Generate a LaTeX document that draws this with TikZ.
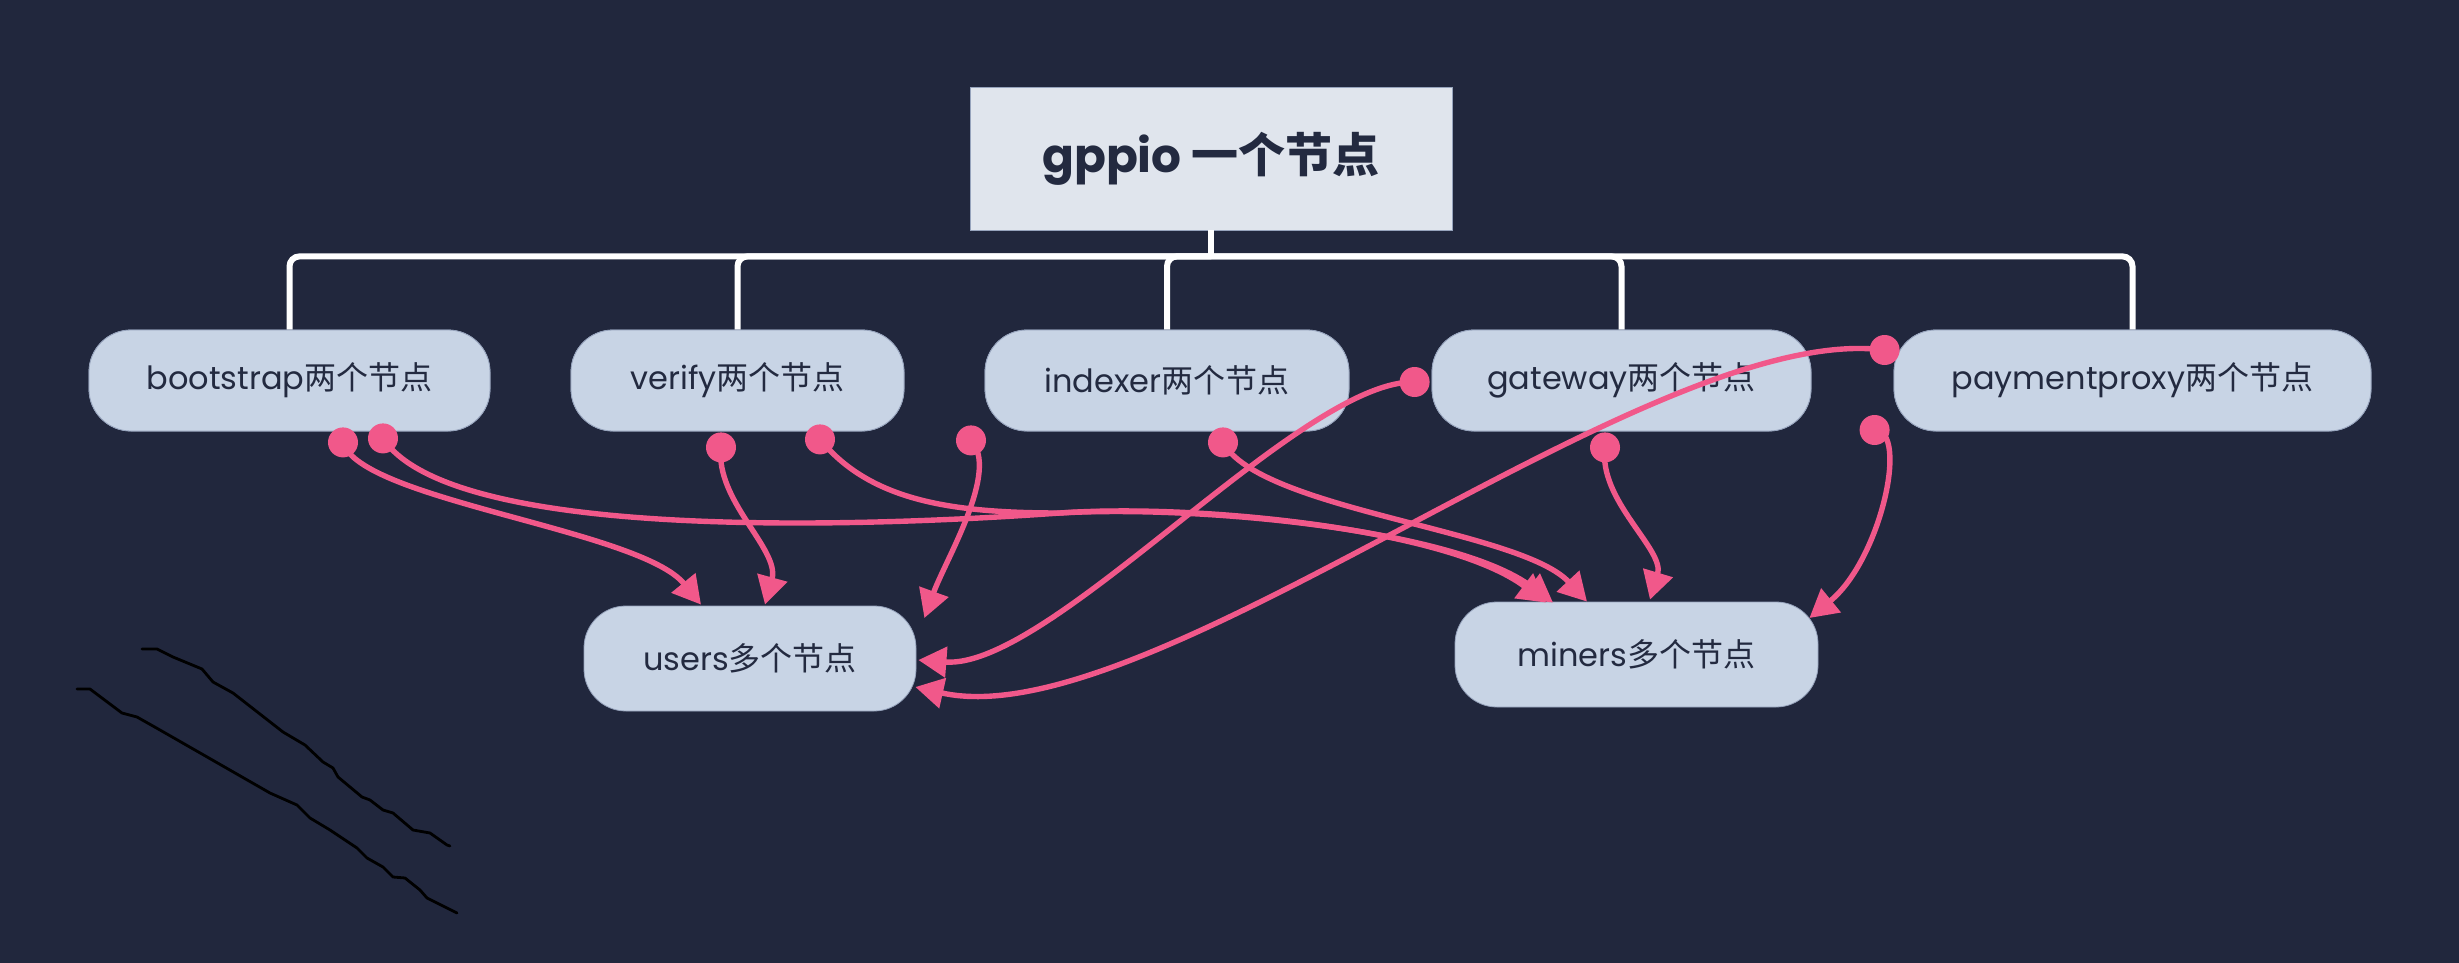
\documentclass[tikz,border=0pt]{standalone}
\usepackage{fontspec}
\setmainfont{Poppins}
\newfontfamily\cjk{Noto Sans CJK SC}
\usetikzlibrary{arrows.meta,calc}
\definecolor{bgc}{RGB}{33,39,61}
\definecolor{boxc}{RGB}{200,212,229}
\definecolor{rootc}{RGB}{224,229,237}
\definecolor{txtc}{RGB}{35,42,64}
\definecolor{pinkc}{RGB}{241,88,138}
\definecolor{edgec}{RGB}{150,163,188}
\begin{document}
\begin{tikzpicture}[x=0.5pt,y=-0.5pt,
  childbox/.style={fill=boxc,draw=edgec,line width=0.4pt,rounded corners=21pt,
    minimum height=50.5pt,inner sep=0pt,text=txtc,font=\fontsize{16}{18}\selectfont},
  leafbox/.style={childbox,minimum height=52.5pt},
  rootbox/.style={fill=rootc,draw=edgec,line width=0.4pt,minimum width=241pt,minimum height=71.5pt,
    inner sep=0pt,text=txtc,font=\fontsize{23.5}{26}\selectfont\bfseries},
  bracket/.style={draw=white,line width=3pt,rounded corners=5pt},
  link/.style={draw=pinkc,line width=2.7pt,-{Triangle[length=14pt,width=15pt]}},
  dotc/.style={fill=pinkc},
  pen/.style={draw=black,line width=1.4pt,line join=round,line cap=round}]
\fill[bgc] (0,0) rectangle (2459,963);
\useasboundingbox (0,0) rectangle (2459,963);

% nodes
\node[rootbox] (root) at (1211,158.5) {gppio {\cjk 一个节点}};
\node[childbox,minimum width=200.5pt] (boot) at (289.5,380.5) {bootstrap{\cjk 两个节点}};
\node[childbox,minimum width=166.5pt] (verify) at (737.5,380.5) {verify{\cjk 两个节点}};
\node[childbox,minimum width=182pt] (indexer) at (1167,380.5) {indexer{\cjk 两个节点}};
\node[childbox,minimum width=189.5pt] (gateway) at (1621.5,380.5) {gateway{\cjk 两个节点}};
\node[childbox,minimum width=238.5pt] (pproxy) at (2132.5,380.5) {paymentproxy{\cjk 两个节点}};
\node[leafbox,minimum width=166pt] (users) at (750,658.5) {users{\cjk 多个节点}};
\node[leafbox,minimum width=181.5pt] (miners) at (1636.5,654.5) {miners{\cjk 多个节点}};

% tree brackets
\coordinate (hub) at ($(root.south)+(0,26)$);
\draw[bracket] (root.south) -- (hub);
\draw[bracket] (hub) -| (boot.north);
\draw[bracket] (hub) -| (verify.north);
\draw[bracket] (hub) -| (indexer.north);
\draw[bracket] (hub) -| (gateway.north);
\draw[bracket] (hub) -| (pproxy.north);
% redraw child boxes over the bracket ends
\node[childbox,minimum width=200.5pt] at (boot) {bootstrap{\cjk 两个节点}};
\node[childbox,minimum width=166.5pt] at (verify) {verify{\cjk 两个节点}};
\node[childbox,minimum width=182pt] at (indexer) {indexer{\cjk 两个节点}};
\node[childbox,minimum width=189.5pt] at (gateway) {gateway{\cjk 两个节点}};
\node[childbox,minimum width=238.5pt] at (pproxy) {paymentproxy{\cjk 两个节点}};

% connector start points
\coordinate (b1) at ($(boot.south)+(53.5,11)$);
\coordinate (b2) at ($(boot.south)+(93.5,7)$);
\coordinate (v1) at ($(verify.south)+(-16.5,16)$);
\coordinate (v2) at ($(verify.south)+(82.5,8)$);
\coordinate (i1) at ($(indexer.south)+(-196,9)$);
\coordinate (i2) at ($(indexer.south)+(56,11)$);
\coordinate (g1) at ($(gateway.west)+(-17,1.5)$);
\coordinate (g2) at ($(gateway.south)+(-16.5,16)$);
\coordinate (p1) at ($(pproxy.west)+(-9,-30.5)$);
\coordinate (p2) at ($(pproxy.west)+(-19,49.5)$);
% connector end points
\coordinate (u1) at ($(users.north)+(-49,-1)$);
\coordinate (u2) at ($(users.north)+(15,-1)$);
\coordinate (u3) at ($(users.east)+(8,-40.5)$);
\coordinate (u4) at ($(users.east)+(2,1.5)$);
\coordinate (u5) at ($(users.east)+(-1,28.5)$);
\coordinate (m1) at ($(miners.north)+(-90.5,1)$);
\coordinate (m2) at ($(miners.north)+(-83.5,1)$);
\coordinate (m3) at ($(miners.north)+(-49.5,0)$);
\coordinate (m4) at ($(miners.north)+(13.5,-2)$);
\coordinate (m5) at ($(miners.east)+(-9,-36.5)$);
% shared waypoint of the two long links to miners
\coordinate (band) at ($(boot.south)!0.5!(miners.north)+(97,-3.5)$);

% connectors
\draw[link] (b1) .. controls +(17,58) and +(-61,-75) .. (u1);
\draw[link] (b2) .. controls +(67,102) and +(-210,15) .. (band)
                 .. controls +(140,-10) and +(-97,-73) .. (m1);
\draw[link] (v1) .. controls +(-6,53) and +(15,-55) .. (u2);
\draw[link] (v2) .. controls +(50,61) and +(-110,0) .. (band)
                 .. controls +(140,-8) and +(-98,-73) .. (m2);
\draw[link] (i1) .. controls +(29,30) and +(21,-58) .. (u3);
\draw[link] (i2) .. controls +(37,68) and +(-67,-72) .. (m3);
\draw[link] (g1) .. controls +(-115,-2) and +(132,10) .. (u4);
\draw[link] (p1) .. controls +(-235,-30) and +(235,53) .. (u5);
\draw[link] (g2) .. controls +(-7,53) and +(15,-50) .. (m4);
\draw[link] (p2) .. controls +(35,0) and +(71,-58) .. (m5);
\foreach \d in {b1,b2,v1,v2,i1,i2,g1,g2,p1,p2} \fill[dotc] (\d) circle (7.5pt);

% pen strokes
\draw[pen] (142,649) -- (157,649) -- (173,657) -- (202,669) -- (213,682) -- (233,693) -- (283,732) -- (305,745) -- (323,762) -- (333,768) -- (338,777) -- (350,787) -- (362,797) -- (370,800) -- (383,810) -- (393,813) -- (413,830) -- (430,833) -- (447,845) -- (450,846);
\draw[pen] (77,689) -- (90,689) -- (122,713) -- (137,717) -- (160,730) -- (270,793) -- (297,805) -- (310,818) -- (330,830) -- (357,848) -- (367,858) -- (383,867) -- (393,877) -- (405,878) -- (420,890) -- (427,898) -- (443,906) -- (457,913);
\end{tikzpicture}
\end{document}
